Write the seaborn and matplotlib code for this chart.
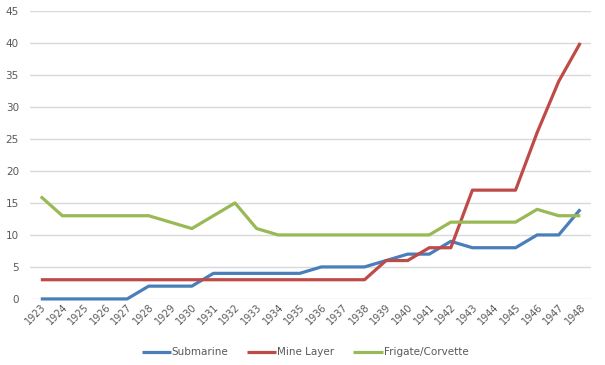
import matplotlib
matplotlib.use("Agg")
import matplotlib.pyplot as plt
import seaborn as sns
import pandas as pd
import numpy as np

years = list(range(1923, 1949))
submarine = [0, 0, 0, 0, 0, 2, 2, 2, 4, 4, 4, 4, 4, 5, 5, 5, 6, 7, 7, 9, 8, 8, 8, 10, 10, 14]
mine_layer = [3, 3, 3, 3, 3, 3, 3, 3, 3, 3, 3, 3, 3, 3, 3, 3, 6, 6, 8, 8, 17, 17, 17, 26, 34, 40]
frigate = [16, 13, 13, 13, 13, 13, 12, 11, 13, 15, 11, 10, 10, 10, 10, 10, 10, 10, 10, 12, 12, 12, 12, 14, 13, 13]
series_names = ["Submarine", "Mine Layer", "Frigate/Corvette"]
colors = ["#4A7EBB", "#BE4B48", "#98B954"]

rows = []
for name, vals in zip(series_names, [submarine, mine_layer, frigate]):
    for i, (y, v) in enumerate(zip(years, vals)):
        rows.append({"pos": i, "year": str(y), "value": v, "series": name})
df = pd.DataFrame(rows)

sns.set_theme(style="white")
plt.rcParams['font.family'] = ['DejaVu Sans']

fig = plt.figure(figsize=(6.05, 3.65), dpi=100)
ax = fig.add_axes([0.0496, 0.181, 0.9274, 0.789])

sns.lineplot(data=df, x="pos", y="value", hue="series", palette=colors,
             hue_order=series_names, linewidth=2.3, ax=ax, legend=True,
             solid_capstyle="butt")
for ln in ax.get_lines():
    ln.set_clip_on(False)

ax.set_xlim(-0.5, len(years) - 0.5)
ax.set_ylim(0, 45)
ax.set_yticks(range(0, 46, 5))
ax.set_xticks(range(len(years)))
ax.set_xticklabels([str(y) for y in years], rotation=45, ha="right",
                   rotation_mode="anchor", fontsize=7, color="#595959")
ax.tick_params(axis="y", labelsize=7.5, colors="#595959", length=0, pad=8)
ax.tick_params(axis="x", length=0, pad=2)
ax.yaxis.grid(True, color="#D9D9D9", linewidth=1)
ax.set_axisbelow(True)
for s in ax.spines.values():
    s.set_visible(False)
ax.set_xlabel("")
ax.set_ylabel("")

leg = ax.legend(loc="upper center", bbox_to_anchor=(0.49, -0.135), ncol=3,
                frameon=False, fontsize=7.5, handlelength=2.8, handletextpad=0.1,
                columnspacing=1.8)
for t in leg.get_texts():
    t.set_color("#595959")

fig.savefig("out.png", dpi=100)
